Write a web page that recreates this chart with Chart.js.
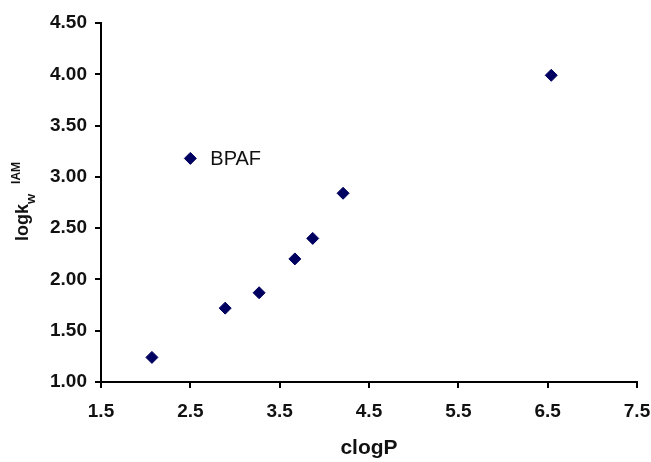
<!DOCTYPE html>
<html>
<head>
<meta charset="utf-8">
<script src="https://cdn.jsdelivr.net/npm/chart.js@4"></script>
<style>
  body { margin: 0; background: #fff; }
  #wrap { width: 651px; height: 462px; }
</style>
</head>
<body>
<div id="wrap"><canvas id="myChart" width="651" height="462"></canvas></div>
<script>
const ctx = document.getElementById('myChart');

// values
const clogP = [2.07, 2.50, 2.89, 3.27, 3.67, 3.87, 4.21, 6.54];
const logkw = [1.24, 3.18, 1.72, 1.87, 2.20, 2.40, 2.84, 3.99];
const pointNames = ['', 'BPAF', '', '', '', '', '', ''];
const xTicks = [1.5, 2.5, 3.5, 4.5, 5.5, 6.5, 7.5];
const yTicks = [1.0, 1.5, 2.0, 2.5, 3.0, 3.5, 4.0, 4.5];

const points = clogP.map((x, i) => ({ x: x, y: logkw[i] }));

const fam = 'Liberation Sans, Arial, sans-serif';
const tickFont = { family: fam, size: 19, weight: 'bold' };

// draws point labels and the two axis titles
const extras = {
    id: 'extras',
    afterDraw(chart) {
        const c = chart.ctx;
        const meta = chart.getDatasetMeta(0);
        c.save();
        c.fillStyle = '#111';
        c.textBaseline = 'middle';
        c.font = '20px ' + fam;
        meta.data.forEach((pt, i) => {
            if (pointNames[i]) c.fillText(pointNames[i], pt.x + 20, pt.y + 1);
        });

        const area = chart.chartArea;
        c.font = 'bold 21px ' + fam;
        c.textAlign = 'center';
        c.textBaseline = 'alphabetic';
        c.fillText('clogP', (area.left + area.right) / 2, 454);

        // y title: logk, subscript w, then superscript IAM
        c.translate(28, (area.top + area.bottom) / 2 - 1);
        c.rotate(-Math.PI / 2);
        c.textAlign = 'left';
        const main = 'logk';
        c.font = 'bold 18px ' + fam;
        const wMain = c.measureText(main).width;
        c.font = 'bold 13px ' + fam;
        const wSub = c.measureText('w').width;
        c.font = 'bold 12px ' + fam;
        const wSup = c.measureText('IAM').width;
        const gap = 10;
        const total = wMain + wSub + gap + wSup;
        const x0 = -total / 2;
        c.font = 'bold 18px ' + fam;
        c.fillText(main, x0, 0);
        c.font = 'bold 13px ' + fam;
        c.fillText('w', x0 + wMain, 7);
        c.font = 'bold 12px ' + fam;
        c.fillText('IAM', x0 + wMain + wSub + gap, -8);
        c.restore();
    }
};

const myChart = new Chart(ctx, {
    type: 'scatter',
    data: {
        datasets: [{
            label: 'logkw',
            data: points,
            pointStyle: 'rectRot',
            pointRadius: 6,
            pointHoverRadius: 6,
            backgroundColor: '#000060',
            borderColor: '#000060',
            borderWidth: 1
        }]
    },
    options: {
        responsive: false,
        animation: false,
        layout: { padding: { top: 23, right: 14, left: 0, bottom: 0 } },
        plugins: {
            legend: { display: false },
            tooltip: { enabled: false }
        },
        scales: {
            x: {
                type: 'linear',
                min: 1.5,
                max: 7.5,
                afterBuildTicks: (scale) => { scale.ticks = xTicks.map(v => ({ value: v })); },
                afterFit: (scale) => {
                    scale.height = 80;
                    scale.paddingLeft = 0;
                    scale.paddingRight = 0;
                },
                grid: { display: true, drawOnChartArea: false, drawTicks: true, tickLength: 6, color: '#000', lineWidth: 2 },
                border: { display: true, color: '#000', width: 2 },
                ticks: {
                    color: '#111',
                    font: tickFont,
                    padding: 12,
                    maxRotation: 0,
                    autoSkip: false,
                    callback: (v) => Number(v).toFixed(1)
                }
            },
            y: {
                type: 'linear',
                min: 1,
                max: 4.5,
                afterBuildTicks: (scale) => { scale.ticks = yTicks.map(v => ({ value: v })); },
                afterFit: (scale) => {
                    scale.width = 101;
                    scale.paddingTop = 0;
                    scale.paddingBottom = 0;
                },
                grid: { display: true, drawOnChartArea: false, drawTicks: true, tickLength: 6, color: '#000', lineWidth: 2 },
                border: { display: true, color: '#000', width: 2 },
                ticks: {
                    color: '#111',
                    font: tickFont,
                    padding: 8,
                    autoSkip: false,
                    callback: (v) => Number(v).toFixed(2)
                }
            }
        }
    },
    plugins: [extras]
});
</script>
</body>
</html>
